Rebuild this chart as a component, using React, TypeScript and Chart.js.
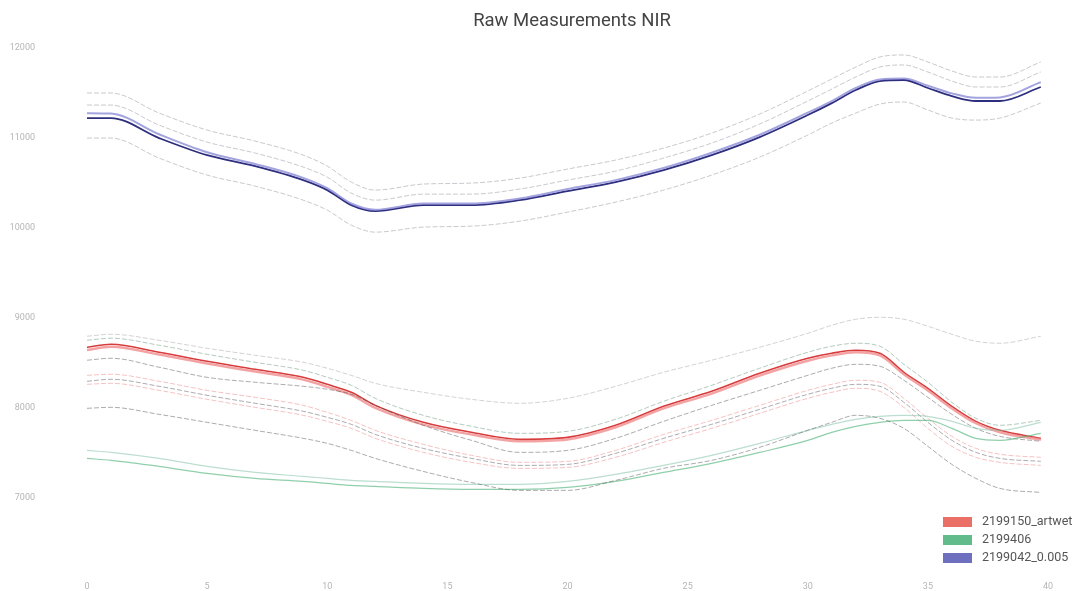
import React, { useEffect, useRef } from "react";
import { Chart, registerables } from "chart.js";

Chart.register(...registerables);

const titleText = "Raw Measurements NIR";

const xValues = [0, 1, 3, 5, 7, 9, 10, 11, 12, 14, 16, 18, 20, 22, 24, 26, 28, 30, 31, 32, 33, 34, 35, 36, 37, 38, 39.7];

const yTicks = [7000, 8000, 9000, 10000, 11000, 12000];
const xTicks = [0, 5, 10, 15, 20, 25, 30, 35, 40];

// top group (2199042_0.005)
const blueMain = [11220, 11220, 10998, 10808, 10686, 10530, 10419, 10252, 10185, 10252, 10252, 10307, 10408, 10508, 10641, 10808, 11009, 11254, 11387, 11532, 11632, 11644, 11555, 11465, 11410, 11410, 11566];
const blueLight = [11275, 11270, 11040, 10840, 10710, 10555, 10440, 10270, 10200, 10270, 10270, 10325, 10430, 10530, 10665, 10835, 11035, 11280, 11410, 11555, 11650, 11660, 11580, 11495, 11445, 11450, 11620];
const blueUpper1 = [11499, 11499, 11276, 11087, 10964, 10808, 10686, 10508, 10419, 10486, 10497, 10552, 10653, 10753, 10886, 11053, 11265, 11521, 11655, 11788, 11900, 11922, 11844, 11744, 11677, 11677, 11844];
const blueUpper2 = [11365, 11365, 11142, 10953, 10831, 10675, 10563, 10385, 10307, 10374, 10374, 10430, 10530, 10630, 10775, 10942, 11154, 11410, 11543, 11677, 11788, 11811, 11733, 11632, 11566, 11566, 11733];
const blueLower = [10998, 10998, 10775, 10586, 10463, 10307, 10196, 10029, 9951, 10007, 10018, 10073, 10174, 10285, 10419, 10586, 10786, 11031, 11165, 11276, 11376, 11399, 11310, 11220, 11198, 11220, 11388];

// bottom group (2199150_artwet, 2199406 and others)
const redMain = [8670, 8704, 8615, 8514, 8425, 8336, 8258, 8169, 8024, 7835, 7724, 7646, 7668, 7802, 8013, 8180, 8381, 8548, 8604, 8637, 8604, 8392, 8214, 8013, 7846, 7746, 7657];
const redLight = [8640, 8675, 8590, 8490, 8400, 8310, 8230, 8140, 7995, 7810, 7700, 7625, 7645, 7780, 7990, 8155, 8355, 8520, 8580, 8615, 8580, 8370, 8190, 7990, 7825, 7725, 7640];
const grayTop = [8793, 8815, 8748, 8659, 8581, 8503, 8437, 8358, 8269, 8169, 8091, 8047, 8102, 8236, 8392, 8526, 8670, 8826, 8915, 8982, 9004, 8982, 8904, 8815, 8737, 8715, 8793];
const grayAboveRed = [8748, 8771, 8693, 8592, 8503, 8414, 8336, 8247, 8102, 7913, 7791, 7713, 7735, 7869, 8069, 8247, 8437, 8615, 8682, 8715, 8682, 8481, 8281, 8058, 7880, 7802, 7857];
const grayBelowRed = [8526, 8548, 8448, 8336, 8281, 8236, 8203, 8147, 8024, 7802, 7635, 7501, 7523, 7657, 7846, 8024, 8191, 8358, 8437, 8481, 8459, 8303, 8113, 7924, 7768, 7679, 7624];
const pinkA = [8358, 8370, 8292, 8191, 8113, 8024, 7946, 7857, 7746, 7590, 7468, 7390, 7401, 7523, 7701, 7857, 8024, 8191, 8258, 8303, 8281, 8102, 7880, 7679, 7545, 7480, 7446];
const grayMid = [8292, 8314, 8236, 8136, 8047, 7958, 7891, 7813, 7701, 7545, 7434, 7356, 7367, 7490, 7657, 7813, 7980, 8147, 8214, 8258, 8236, 8058, 7835, 7635, 7501, 7434, 7401];
const pinkB = [8258, 8269, 8191, 8091, 8002, 7913, 7846, 7768, 7657, 7501, 7390, 7323, 7334, 7446, 7612, 7768, 7935, 8102, 8169, 8214, 8180, 8002, 7768, 7568, 7446, 7390, 7356];
const grayLow = [7991, 8002, 7924, 7835, 7746, 7657, 7601, 7523, 7434, 7289, 7166, 7078, 7078, 7189, 7323, 7412, 7557, 7746, 7835, 7913, 7880, 7768, 7568, 7367, 7211, 7100, 7055];
const greenA = [7523, 7501, 7434, 7345, 7278, 7233, 7211, 7189, 7178, 7155, 7144, 7144, 7178, 7256, 7356, 7468, 7601, 7746, 7813, 7869, 7902, 7913, 7902, 7846, 7768, 7746, 7835];
const greenB = [7434, 7412, 7345, 7267, 7211, 7178, 7155, 7133, 7122, 7100, 7089, 7089, 7111, 7178, 7278, 7379, 7501, 7635, 7724, 7791, 7835, 7857, 7857, 7768, 7657, 7635, 7713];

const legendLabels = ["2199150_artwet", "2199406", "2199042_0.005"];
const legendColors = ["#ea6f66", "#62bb8a", "#6f6fbf"];

function toPoints(vals: number[]) {
  return vals.map((v, i) => ({ x: xValues[i], y: v }));
}

function line(label: string, vals: number[], color: string, width: number, dash: number[] = []) {
  return {
    label,
    data: toPoints(vals),
    borderColor: color,
    backgroundColor: color,
    borderWidth: width,
    borderDash: dash,
    pointRadius: 0,
    fill: false,
    cubicInterpolationMode: "monotone" as const,
  };
}

const legendPlugin = {
  id: "customLegend",
  afterDraw(chart: any) {
    const ctx = chart.ctx;
    ctx.save();
    // title, centred over the plot area
    ctx.font = "18.5px Roboto, 'Noto Sans', sans-serif";
    ctx.fillStyle = "#444";
    ctx.textAlign = "center";
    ctx.textBaseline = "middle";
    ctx.fillText(titleText, 572, 21);

    const boxX = 943;
    const textX = 982;
    const startY = 522;
    const rowH = 18;
    ctx.font = "12.5px Roboto, 'Noto Sans', sans-serif";
    ctx.textBaseline = "middle";
    ctx.textAlign = "left";
    legendLabels.forEach((lab, i) => {
      const cy = startY + i * rowH;
      ctx.fillStyle = legendColors[i];
      ctx.fillRect(boxX, cy - 5, 29, 10);
      ctx.fillStyle = "#555";
      ctx.fillText(lab, textX, cy);
    });
    ctx.restore();
  },
};

export default function App() {
  const canvasRef = useRef<HTMLCanvasElement | null>(null);

  useEffect(() => {
    if (!canvasRef.current) return;
    const grayTopC = "rgba(120,120,135,0.4)";
    const grayDark = "rgba(70,70,70,0.45)";
    const pink = "rgba(235,120,120,0.45)";
    const green = "rgba(70,175,115,0.6)";
    const d = [5, 2];
    const chart = new Chart(canvasRef.current, {
      type: "line",
      data: {
        datasets: [
          line("", blueUpper1, grayTopC, 1, d),
          line("", blueUpper2, grayTopC, 1, d),
          line("", blueLower, grayTopC, 1, d),
          line("", blueLight, "rgba(140,140,215,0.8)", 2),
          line(legendLabels[2], blueMain, "#2e2e7e", 1.8),
          line("", grayTop, "rgba(110,110,110,0.3)", 1, d),
          line("", grayLow, grayDark, 1, d),
          line("", greenB, green, 1.2),
          line("", greenA, "rgba(120,190,160,0.5)", 1.2),
          line("", pinkB, pink, 1, d),
          line("", grayMid, grayDark, 1, d),
          line("", pinkA, pink, 1, d),
          line("", grayBelowRed, grayDark, 1, d),
          line("", grayAboveRed, "rgba(90,140,110,0.45)", 1, d),
          line("", redLight, "rgba(240,140,140,0.8)", 2.5),
          line(legendLabels[0], redMain, "#d63c3c", 1.6),
        ],
      },
      options: {
        animation: false,
        responsive: true,
        maintainAspectRatio: false,
        layout: { padding: { left: 10, right: 27, top: 39, bottom: 0 } },
        plugins: {
          legend: { display: false },
          tooltip: { enabled: false },
          title: { display: false },
        },
        scales: {
          x: {
            type: "linear",
            min: 0,
            max: 40,
            grid: { display: false, drawTicks: false },
            border: { display: false },
            afterBuildTicks: (scale: any) => {
              scale.ticks = xTicks.map((v) => ({ value: v }));
            },
            afterFit: (scale: any) => {
              scale.height = 19;
              scale.paddingLeft = 4;
              scale.paddingRight = 4;
            },
            ticks: {
              color: "#b5b5b5",
              font: { family: "Roboto, sans-serif", size: 9 },
              padding: 9,
              maxRotation: 0,
            },
          },
          y: {
            type: "linear",
            min: 6170,
            max: 12100,
            grid: { display: false, drawTicks: false },
            border: { display: false },
            afterBuildTicks: (scale: any) => {
              scale.ticks = yTicks.map((v) => ({ value: v }));
            },
            afterFit: (scale: any) => {
              scale.width = 77;
              scale.paddingTop = 4;
              scale.paddingBottom = 4;
            },
            ticks: {
              color: "#b5b5b5",
              font: { family: "Roboto, sans-serif", size: 9 },
              padding: 52,
              callback: (v: any) => String(v),
            },
          },
        },
      },
      plugins: [legendPlugin],
    });
    return () => chart.destroy();
  }, []);

  return (
    <div style={{ position: "fixed", left: 0, top: 0, width: 1075, height: 591, background: "#fff" }}>
      <canvas ref={canvasRef} />
    </div>
  );
}
